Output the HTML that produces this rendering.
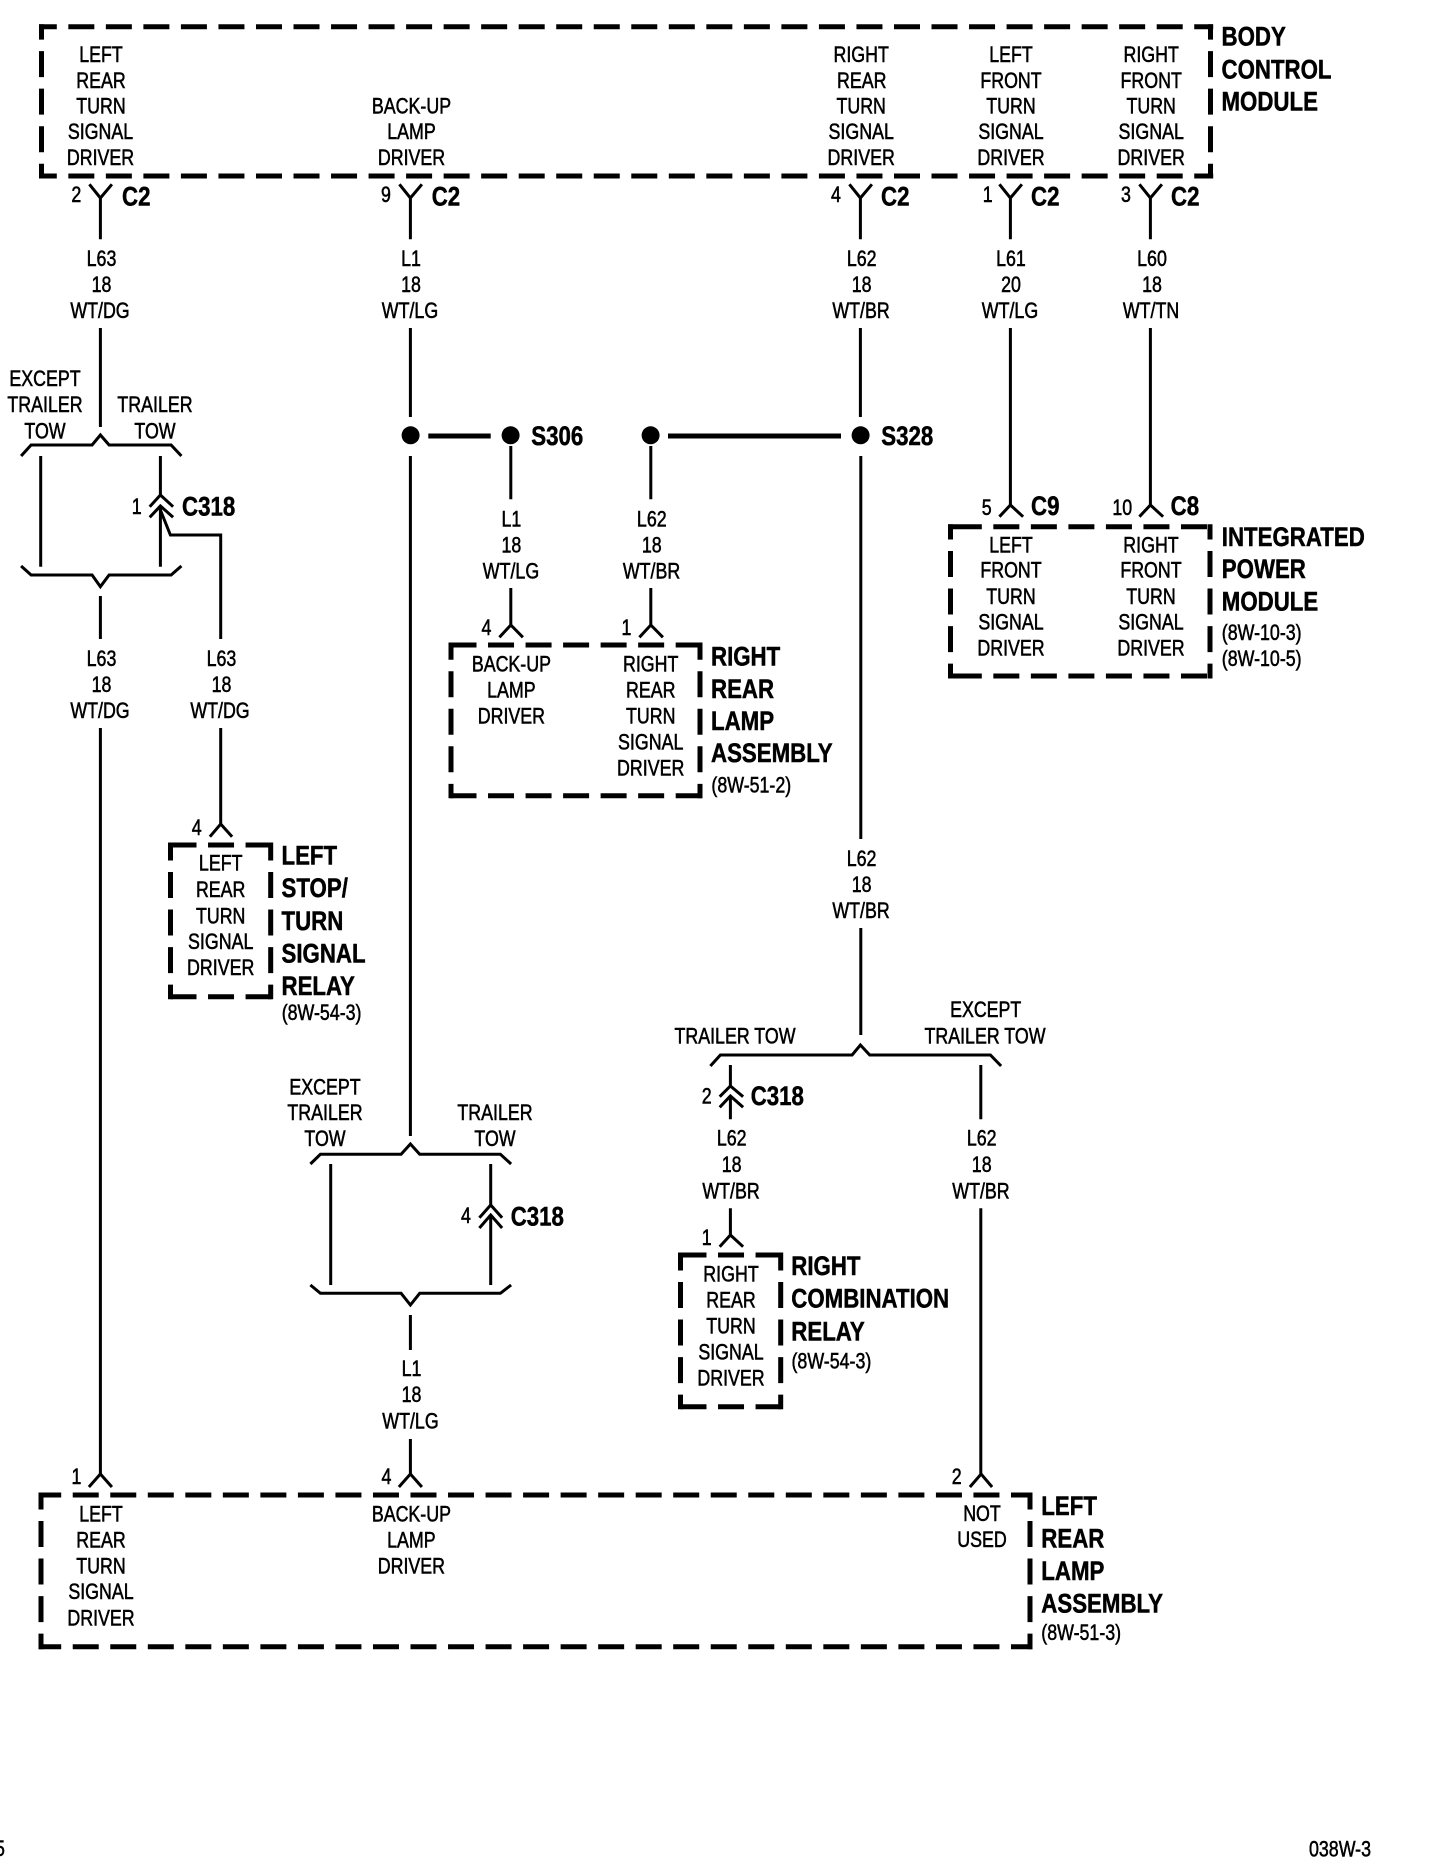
<!DOCTYPE html>
<html><head><meta charset="utf-8"><style>
html,body{margin:0;padding:0;background:#fff}
svg{display:block}
text{font-family:"Liberation Sans",sans-serif;fill:#000;stroke:#000;transform-box:fill-box}
.t{font-size:22px;text-anchor:middle;transform-origin:center;transform:scaleX(.81);stroke-width:.55px}
.s{font-size:22px;text-anchor:start;transform-origin:left center;transform:scaleX(.81);stroke-width:.55px}
.b{font-size:26.5px;font-weight:bold;text-anchor:start;transform-origin:left center;transform:scaleX(.84);stroke-width:.5px}
</style></head><body>
<svg width="1456" height="1870" viewBox="0 0 1456 1870" xmlns="http://www.w3.org/2000/svg">
<rect width="1456" height="1870" fill="#fff"/>
<!-- dashed boxes -->
<g fill="none" stroke="#000" stroke-width="5" stroke-dasharray="26 11.53">
<path d="M39 26.7H1213.2M39 176H1213.2" stroke-dashoffset="8.2"/>
<path d="M41.5 24.2V178.5M1210.5 24.2V178.5" stroke-dashoffset="10.6"/>
<path d="M955.8 526.7H1212.5M955.8 676H1212.5"/>
<path d="M948 526.7H956M948 676H956"/>
<path d="M950.5 524.2V678.5M1210 524.2V678.5" stroke-dashoffset="10.7"/>
<path d="M450.5 645H702.5M450.5 795.7H702.5"/>
<path d="M451 642.5V798.2M700 642.5V798.2" stroke-dashoffset="8.8"/>
<path d="M170.5 845H273.2M170.5 996.7H273.2"/>
<path d="M170.5 842.5V999.2M270.7 842.5V999.2" stroke-dashoffset="8"/>
<path d="M680.5 1255H783.2M680.5 1406.7H783.2"/>
<path d="M680.5 1252.5V1409.2M780.7 1252.5V1409.2" stroke-dashoffset="8"/>
<path d="M38.5 1495H1032.5M38.5 1646.7H1032.5" stroke-dashoffset="3.3"/>
<path d="M41 1492.5V1649.2M1030 1492.5V1649.2" stroke-dashoffset="9"/>
</g>
<!-- wires -->
<g fill="none" stroke="#000" stroke-width="3" transform="translate(.4 0)">
<!-- BCM connectors -->
<path d="M89 184.3L100 198L111.5 184.3M100 198V239.3M100 328V427"/>
<path d="M399 184.3L410 198L421.5 184.3M410 198V239.3M410 328V417"/>
<path d="M849 184.3L860 198L871.5 184.3M860 198V239.3M860 328V417"/>
<path d="M999 184.3L1010 198L1021.5 184.3M1010 198V239.3M1010 328V505"/>
<path d="M1139 184.3L1150 198L1161.5 184.3M1150 198V239.3M1150 328V505"/>
<!-- IPM arrows -->
<path d="M999 516.7L1010 505L1022.7 516.7M1139 516.7L1150 505L1162.7 516.7"/>
<!-- left bracket -->
<path d="M20.7 456L30.7 445H91.7L100 435L108.7 445H170.7L181 456"/>
<path d="M40.3 456V566.7M160 456V495M160 506V566.7"/>
<path d="M20.7 566L30.7 575H91.7L100 586.7L108.7 575H170.7L181 566"/>
<path d="M149.3 506.7L160 495L172.7 506.7M149.3 517.3L160 506L172.7 517.3"/>
<path d="M160 510L170 535H220.3V639"/>
<path d="M100 596V639M100 728V1474M220.3 728V824"/>
<path d="M209.5 836.7L220.3 824L231.7 836.7"/>
<path d="M88.5 1487L100 1474L111.5 1487M398.5 1487L410 1474L421.5 1487M969.5 1487L980.7 1474L991.7 1487"/>
<!-- middle wires -->
<path d="M410 456V1136M510.4 446V499.3M510.4 588V625M650.4 446V499.3M650.4 588V625"/>
<path d="M499 637.3L510.4 625L522.5 637.3M639 637.3L650.4 625L662.5 637.3"/>
<path d="M860.4 456V839M860.4 928V1035"/>
<!-- lower-left bracket -->
<path d="M310 1164L320 1154.3H400.7L410 1144L419.3 1154.3H500L510.7 1164"/>
<path d="M330.3 1164V1285M490.3 1164V1205M490.3 1215V1285"/>
<path d="M310 1285L320 1293.3H400.7L410 1305L419.3 1293.3H500L510.7 1285"/>
<path d="M479 1217.7L490.3 1205L501.7 1217.7M479 1228L490.3 1215L501.7 1228"/>
<path d="M410 1315V1350M410 1439V1474"/>
<!-- right bracket -->
<path d="M710 1066L720 1055H851.7L860 1045L869.3 1055H990L1000.7 1066"/>
<path d="M730 1065V1086M730 1096V1119.3M980.4 1065V1119.3M980.4 1208.3V1474M730 1208.3V1235"/>
<path d="M719.3 1096.7L730 1086L742.7 1096.7M719.3 1107.3L730 1096L742.7 1107.3"/>
<path d="M719.3 1246.7L730 1235L742.7 1246.7"/>
</g>
<!-- splices -->
<g stroke="#000" stroke-width="5" fill="none"><path d="M428.3 436H490.7M668 436H841"/></g>
<g fill="#000"><circle cx="410.6" cy="435.3" r="9"/><circle cx="510.6" cy="435.3" r="9"/><circle cx="650.6" cy="435.3" r="9"/><circle cx="860.6" cy="435.3" r="9"/></g>
<!-- BCM text -->
<text class="t" x="101" y="62">LEFT</text><text class="t" x="101" y="88">REAR</text><text class="t" x="101" y="113.5">TURN</text><text class="t" x="100.5" y="139">SIGNAL</text><text class="t" x="100.5" y="165">DRIVER</text>
<text class="t" x="411.5" y="113.5">BACK-UP</text><text class="t" x="411.5" y="139">LAMP</text><text class="t" x="411.5" y="165">DRIVER</text>
<text class="t" x="861.2" y="62">RIGHT</text><text class="t" x="861.7" y="88">REAR</text><text class="t" x="861.2" y="113.5">TURN</text><text class="t" x="861.2" y="139">SIGNAL</text><text class="t" x="861.2" y="165">DRIVER</text>
<text class="t" x="1011" y="62">LEFT</text><text class="t" x="1011" y="88">FRONT</text><text class="t" x="1011" y="113.5">TURN</text><text class="t" x="1011" y="139">SIGNAL</text><text class="t" x="1011" y="165">DRIVER</text>
<text class="t" x="1151.2" y="62">RIGHT</text><text class="t" x="1151.2" y="88">FRONT</text><text class="t" x="1151.2" y="113.5">TURN</text><text class="t" x="1151.2" y="139">SIGNAL</text><text class="t" x="1151.2" y="165">DRIVER</text>
<text class="b" x="1221.5" y="45.5">BODY</text><text class="b" x="1221.5" y="78.5">CONTROL</text><text class="b" x="1221.5" y="110.5">MODULE</text>
<!-- BCM pins -->
<text class="t" x="76.3" y="202">2</text><text class="b" x="122" y="205.5">C2</text>
<text class="t" x="386" y="202">9</text><text class="b" x="431.7" y="205.5">C2</text>
<text class="t" x="836" y="202">4</text><text class="b" x="881" y="205.5">C2</text>
<text class="t" x="987.7" y="202">1</text><text class="b" x="1031" y="205.5">C2</text>
<text class="t" x="1126" y="202">3</text><text class="b" x="1171" y="205.5">C2</text>
<!-- wire labels -->
<text class="t" x="101.5" y="266">L63</text><text class="t" x="101.5" y="292">18</text><text class="t" x="100" y="318">WT/DG</text>
<text class="t" x="411" y="266">L1</text><text class="t" x="411" y="292">18</text><text class="t" x="410" y="318">WT/LG</text>
<text class="t" x="861.7" y="266">L62</text><text class="t" x="861.7" y="292">18</text><text class="t" x="861" y="318">WT/BR</text>
<text class="t" x="1011" y="266">L61</text><text class="t" x="1011" y="292">20</text><text class="t" x="1010" y="318">WT/LG</text>
<text class="t" x="1152" y="266">L60</text><text class="t" x="1152" y="292">18</text><text class="t" x="1151" y="318">WT/TN</text>
<text class="t" x="45" y="386.2">EXCEPT</text><text class="t" x="45" y="412.2">TRAILER</text><text class="t" x="45" y="438.5">TOW</text>
<text class="t" x="155" y="412.2">TRAILER</text><text class="t" x="155" y="438.5">TOW</text>
<text class="t" x="136.7" y="514">1</text><text class="b" x="182" y="515.5">C318</text>
<text class="t" x="101.5" y="666">L63</text><text class="t" x="101.5" y="692">18</text><text class="t" x="100" y="718">WT/DG</text>
<text class="t" x="221.5" y="666">L63</text><text class="t" x="221.5" y="692">18</text><text class="t" x="220" y="718">WT/DG</text>
<!-- splices text -->
<text class="b" x="531.3" y="445">S306</text><text class="b" x="881.3" y="445">S328</text>
<text class="t" x="511.4" y="526.7">L1</text><text class="t" x="511.4" y="552.7">18</text><text class="t" x="511" y="578.5">WT/LG</text>
<text class="t" x="651.8" y="526.7">L62</text><text class="t" x="651.8" y="552.7">18</text><text class="t" x="651.5" y="578.5">WT/BR</text>
<text class="t" x="486.4" y="635">4</text><text class="t" x="626.4" y="635">1</text>
<!-- RRL -->
<text class="t" x="511.4" y="671.7">BACK-UP</text><text class="t" x="511.4" y="697.7">LAMP</text><text class="t" x="511.4" y="723.7">DRIVER</text>
<text class="t" x="650.7" y="671.7">RIGHT</text><text class="t" x="650.7" y="697.7">REAR</text><text class="t" x="650.7" y="723.7">TURN</text><text class="t" x="650.7" y="749.5">SIGNAL</text><text class="t" x="650.7" y="775.5">DRIVER</text>
<text class="b" x="711" y="665.5">RIGHT</text><text class="b" x="711" y="698">REAR</text><text class="b" x="711" y="730">LAMP</text><text class="b" x="711" y="762">ASSEMBLY</text><text class="s" x="711.4" y="792.7">(8W-51-2)</text>
<!-- IPM -->
<text class="t" x="986.7" y="515">5</text><text class="b" x="1031" y="515">C9</text><text class="t" x="1122.3" y="515">10</text><text class="b" x="1170.7" y="515">C8</text>
<text class="t" x="1011" y="552.7">LEFT</text><text class="t" x="1011" y="577.7">FRONT</text><text class="t" x="1011" y="604">TURN</text><text class="t" x="1011" y="629.5">SIGNAL</text><text class="t" x="1011" y="655.5">DRIVER</text>
<text class="t" x="1151" y="552.7">RIGHT</text><text class="t" x="1151" y="577.7">FRONT</text><text class="t" x="1151" y="604">TURN</text><text class="t" x="1151" y="629.5">SIGNAL</text><text class="t" x="1151" y="655.5">DRIVER</text>
<text class="b" x="1221.8" y="546">INTEGRATED</text><text class="b" x="1221.8" y="578">POWER</text><text class="b" x="1221.8" y="610.5">MODULE</text><text class="s" x="1221.8" y="640">(8W-10-3)</text><text class="s" x="1221.8" y="666">(8W-10-5)</text>
<!-- LSR -->
<text class="t" x="196.7" y="835">4</text>
<text class="t" x="220.7" y="870.7">LEFT</text><text class="t" x="220.7" y="897">REAR</text><text class="t" x="220.7" y="923.3">TURN</text><text class="t" x="220.7" y="949">SIGNAL</text><text class="t" x="220.7" y="975">DRIVER</text>
<text class="b" x="281.5" y="864.3">LEFT</text><text class="b" x="281.5" y="897">STOP/</text><text class="b" x="281.5" y="930">TURN</text><text class="b" x="281.5" y="962.3">SIGNAL</text><text class="b" x="281.5" y="995">RELAY</text><text class="s" x="281.7" y="1020">(8W-54-3)</text>
<!-- L62 mid -->
<text class="t" x="861.6" y="866">L62</text><text class="t" x="861.6" y="892">18</text><text class="t" x="861" y="918.2">WT/BR</text>
<text class="t" x="735" y="1043.3">TRAILER TOW</text><text class="t" x="985.7" y="1017">EXCEPT</text><text class="t" x="985" y="1043.3">TRAILER TOW</text>
<text class="t" x="706.7" y="1103.3">2</text><text class="b" x="750.7" y="1105">C318</text>
<text class="t" x="731.7" y="1145.7">L62</text><text class="t" x="731.7" y="1172">18</text><text class="t" x="731" y="1198.3">WT/BR</text>
<text class="t" x="981.7" y="1145.7">L62</text><text class="t" x="981.7" y="1172">18</text><text class="t" x="981" y="1198.3">WT/BR</text>
<text class="t" x="706.7" y="1245">1</text>
<!-- Combo -->
<text class="t" x="731" y="1281.5">RIGHT</text><text class="t" x="731" y="1307.5">REAR</text><text class="t" x="731" y="1333.5">TURN</text><text class="t" x="731" y="1359.5">SIGNAL</text><text class="t" x="731" y="1385.7">DRIVER</text>
<text class="b" x="791.3" y="1275">RIGHT</text><text class="b" x="791.3" y="1307.5">COMBINATION</text><text class="b" x="791.3" y="1340.7">RELAY</text><text class="s" x="791.5" y="1368.3">(8W-54-3)</text>
<!-- lower left -->
<text class="t" x="325" y="1094.3">EXCEPT</text><text class="t" x="325" y="1120.2">TRAILER</text><text class="t" x="325" y="1146.2">TOW</text>
<text class="t" x="495" y="1120.2">TRAILER</text><text class="t" x="495" y="1146.2">TOW</text>
<text class="t" x="466" y="1223">4</text><text class="b" x="510.7" y="1225.5">C318</text>
<text class="t" x="411.5" y="1376">L1</text><text class="t" x="411.5" y="1402">18</text><text class="t" x="410.5" y="1428.5">WT/LG</text>
<!-- LRL -->
<text class="t" x="76.5" y="1484">1</text><text class="t" x="386.5" y="1484">4</text><text class="t" x="956.7" y="1484">2</text>
<text class="t" x="101" y="1521.7">LEFT</text><text class="t" x="101" y="1547.7">REAR</text><text class="t" x="101" y="1573.7">TURN</text><text class="t" x="101" y="1599">SIGNAL</text><text class="t" x="101" y="1625.7">DRIVER</text>
<text class="t" x="411.4" y="1521.7">BACK-UP</text><text class="t" x="411.4" y="1547.7">LAMP</text><text class="t" x="411.4" y="1573.7">DRIVER</text>
<text class="t" x="982" y="1521">NOT</text><text class="t" x="982" y="1547">USED</text>
<text class="b" x="1041.3" y="1515">LEFT</text><text class="b" x="1041.3" y="1547.7">REAR</text><text class="b" x="1041.3" y="1580">LAMP</text><text class="b" x="1041.3" y="1612.3">ASSEMBLY</text><text class="s" x="1041.3" y="1640">(8W-51-3)</text>
<!-- footer -->
<text class="s" x="-5" y="1856">5</text>
<text class="s" x="1309" y="1856.7">038W-3</text>
</svg>
</body></html>
